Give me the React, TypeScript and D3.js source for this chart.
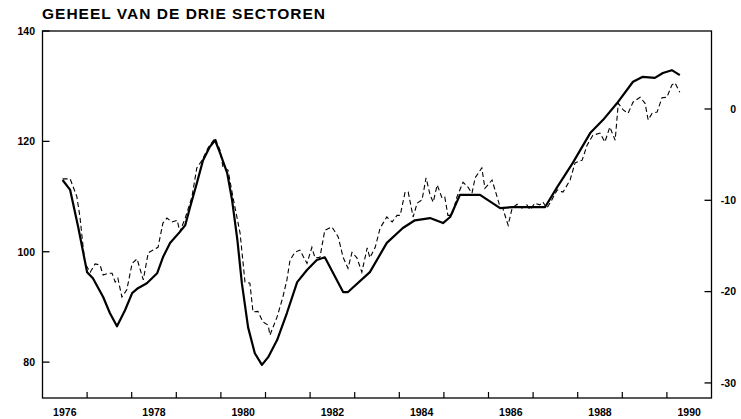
import React from 'react';
import * as d3 from 'd3';

// solid (smoothed) line: [year, index]
const trendSeries: [number, number][] = [
  [1976.45, 113.0], [1976.62, 111.2], [1976.8, 104.5], [1977.0, 96.3], [1977.13, 95.2],
  [1977.36, 91.8], [1977.51, 88.9], [1977.67, 86.5], [1977.85, 89.4], [1978.01, 92.5],
  [1978.14, 93.4], [1978.34, 94.3], [1978.57, 96.1], [1978.7, 99.0], [1978.86, 101.6],
  [1979.08, 103.6], [1979.2, 104.8], [1979.31, 108.1], [1979.46, 112.4], [1979.6, 116.6],
  [1979.75, 119.0], [1979.87, 120.2], [1979.98, 117.9], [1980.14, 114.3], [1980.25, 109.4],
  [1980.37, 102.1], [1980.47, 94.3], [1980.61, 86.3], [1980.76, 81.6], [1980.92, 79.5],
  [1981.06, 80.9], [1981.26, 84.0], [1981.48, 88.9], [1981.71, 94.5], [1981.93, 96.7],
  [1982.15, 98.5], [1982.33, 99.0], [1982.74, 92.7], [1982.85, 92.7], [1983.34, 96.3],
  [1983.72, 101.6], [1984.08, 104.3], [1984.35, 105.7], [1984.69, 106.1], [1984.98, 105.2],
  [1985.14, 106.3], [1985.36, 110.3], [1985.81, 110.3], [1986.26, 107.9], [1986.55, 108.1],
  [1986.93, 108.1], [1987.27, 108.1], [1987.54, 111.7], [1987.89, 116.1], [1988.28, 121.5],
  [1988.57, 123.9], [1988.88, 126.9], [1989.24, 130.8], [1989.46, 131.7], [1989.73, 131.5],
  [1989.91, 132.4], [1990.11, 132.9], [1990.29, 132.0],
];

// dashed (monthly) line: [year, index]
const monthlySeries: [number, number][] = [
  [1976.45, 113.2], [1976.62, 113.2], [1976.77, 110.0], [1976.84, 106.3], [1976.95, 97.9],
  [1977.07, 96.3], [1977.18, 97.8], [1977.29, 97.6], [1977.36, 95.8], [1977.47, 96.1],
  [1977.56, 96.1], [1977.63, 94.5], [1977.69, 95.2], [1977.78, 91.8], [1977.89, 93.1],
  [1978.01, 97.9], [1978.12, 98.7], [1978.26, 94.9], [1978.37, 99.8], [1978.48, 100.3],
  [1978.59, 100.8], [1978.7, 105.2], [1978.79, 106.1], [1978.9, 105.4], [1979.02, 105.7],
  [1979.08, 103.6], [1979.2, 106.1], [1979.35, 109.9], [1979.46, 115.2], [1979.58, 116.6],
  [1979.71, 118.8], [1979.87, 120.6], [1979.98, 118.4], [1980.05, 115.2], [1980.16, 114.8],
  [1980.27, 109.9], [1980.43, 103.4], [1980.54, 94.5], [1980.65, 94.3], [1980.72, 89.1],
  [1980.83, 89.2], [1980.94, 87.3], [1981.06, 86.7], [1981.1, 84.9], [1981.26, 88.2],
  [1981.39, 91.8], [1981.48, 94.9], [1981.55, 98.5], [1981.66, 99.9], [1981.77, 100.3],
  [1981.93, 97.9], [1982.04, 100.8], [1982.11, 98.9], [1982.22, 99.0], [1982.33, 103.9],
  [1982.49, 104.5], [1982.63, 102.7], [1982.74, 99.0], [1982.85, 97.0], [1982.94, 99.9],
  [1983.05, 98.9], [1983.16, 96.3], [1983.28, 100.7], [1983.34, 98.9], [1983.46, 100.8],
  [1983.57, 104.3], [1983.72, 106.3], [1983.84, 105.4], [1983.95, 106.6], [1984.02, 106.6],
  [1984.13, 110.8], [1984.2, 110.8], [1984.31, 106.3], [1984.4, 108.8], [1984.51, 109.4],
  [1984.6, 113.4], [1984.69, 110.3], [1984.76, 109.0], [1984.85, 112.1], [1984.96, 109.7],
  [1985.02, 109.9], [1985.09, 106.6], [1985.18, 106.6], [1985.29, 109.9], [1985.43, 112.6],
  [1985.54, 111.7], [1985.63, 110.6], [1985.7, 113.4], [1985.85, 115.2], [1985.92, 111.5],
  [1986.08, 113.0], [1986.26, 108.1], [1986.32, 107.9], [1986.44, 104.8], [1986.53, 107.9],
  [1986.64, 108.6], [1986.75, 107.9], [1986.86, 108.5], [1986.93, 107.6], [1987.04, 108.8],
  [1987.15, 108.5], [1987.22, 109.0], [1987.31, 107.9], [1987.42, 109.4], [1987.54, 111.2],
  [1987.67, 110.8], [1987.83, 113.0], [1987.94, 116.1], [1988.1, 116.6], [1988.21, 119.3],
  [1988.34, 121.1], [1988.5, 121.5], [1988.61, 119.9], [1988.72, 122.6], [1988.84, 120.2],
  [1988.91, 126.9], [1989.02, 125.7], [1989.13, 125.1], [1989.24, 127.1], [1989.4, 128.0],
  [1989.51, 126.9], [1989.58, 123.9], [1989.67, 125.1], [1989.78, 125.3], [1989.89, 127.9],
  [1990.0, 128.0], [1990.11, 130.2], [1990.18, 130.6], [1990.29, 128.9],
];

const leftTicks = [140, 120, 100, 80];
const rightTicks = [0, -10, -20, -30];
const yearTicks = d3.range(1977, 1991);
const yearLabels = [1976, 1978, 1980, 1982, 1984, 1986, 1988, 1990];
const title = 'GEHEEL VAN DE DRIE SECTOREN';

const W = 741;
const H = 419;
const plot = { left: 42.5, right: 711.5, top: 31, bottom: 398 };
const font = '"Liberation Sans", Arial, Helvetica, sans-serif';

const App: React.FC = () => {
  const x = d3.scaleLinear().domain([1976, 1991]).range([plot.left, plot.right]);
  const y = d3.scaleLinear().domain([73.5, 140]).range([plot.bottom, plot.top]);
  const yRight = d3.scaleLinear().domain([-31.65, 8.54]).range([plot.bottom, plot.top]);

  const line = d3.line<[number, number]>()
    .x(d => x(d[0]))
    .y(d => y(d[1]));

  return (
    <svg width={W} height={H} style={{ position: 'absolute', left: 0, top: 0, background: '#fff' }}
      fontFamily={font} fontWeight="bold">
      <text x={42} y={18.5} fontSize={15.5} textLength={283} lengthAdjust="spacing">{title}</text>

      {/* frame */}
      <rect x={plot.left} y={plot.top} width={plot.right - plot.left} height={plot.bottom - plot.top}
        fill="none" stroke="#000" strokeWidth={1.3} />

      {/* left axis */}
      {leftTicks.map(t => (
        <g key={'l' + t}>
          <line x1={plot.left} x2={plot.left + 7} y1={y(t)} y2={y(t)} stroke="#000" strokeWidth={1.3} />
          <text x={35} y={y(t) + 3.8} fontSize={10.5} textAnchor="end">{t}</text>
        </g>
      ))}

      {/* right axis */}
      {rightTicks.map(t => (
        <g key={'r' + t}>
          <line x1={plot.right - 7} x2={plot.right} y1={yRight(t)} y2={yRight(t)} stroke="#000" strokeWidth={1.3} />
          <text x={736} y={yRight(t) + 3.8} fontSize={10.5} textAnchor="end">{t}</text>
        </g>
      ))}

      {/* bottom axis */}
      {yearTicks.map(t => (
        <line key={'x' + t} x1={x(t)} x2={x(t)} y1={plot.bottom} y2={plot.bottom - 6} stroke="#000" strokeWidth={1.2} />
      ))}
      {yearLabels.map(t => (
        <text key={'xl' + t} x={x(t + 0.5)} y={416} fontSize={10.5} textAnchor="middle">{t}</text>
      ))}

      <path d={line(monthlySeries) || ''} fill="none" stroke="#000" strokeWidth={1.1} strokeDasharray="5,3" />
      <path d={line(trendSeries) || ''} fill="none" stroke="#000" strokeWidth={2.2} strokeLinejoin="round" />
    </svg>
  );
};

export default App;
